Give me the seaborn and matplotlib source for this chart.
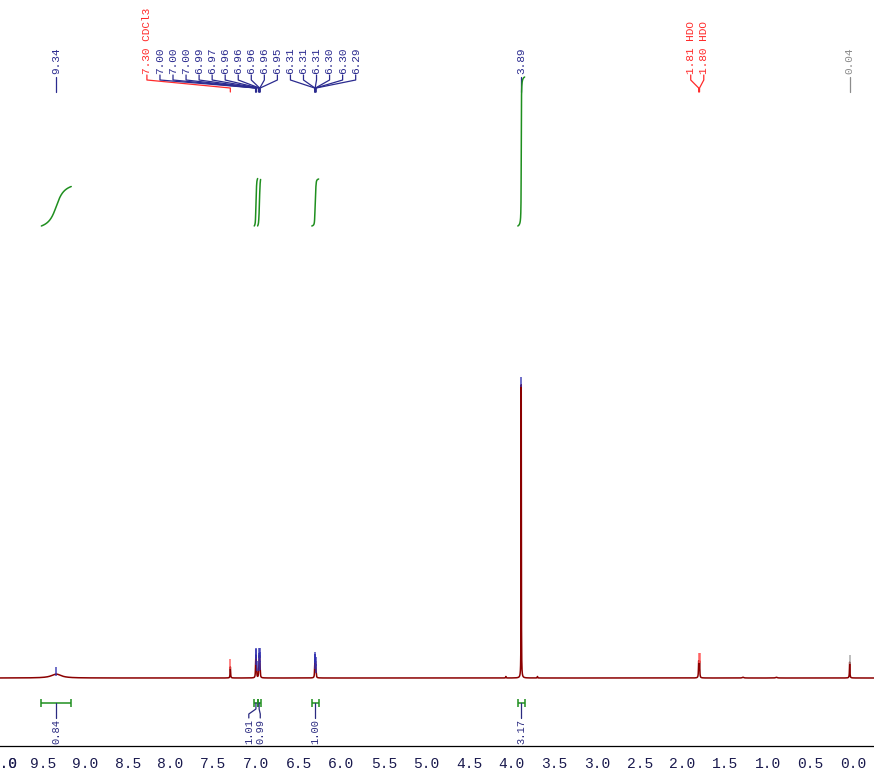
import numpy as np
import pandas as pd
import matplotlib
matplotlib.use("Agg")
import matplotlib.pyplot as plt
import seaborn as sns
from matplotlib.ticker import MultipleLocator, FormatStrFormatter

# ---------------- data ----------------
# individual resonances: position (ppm), height (relative units), half width (ppm)
line_ppm = [9.34, 7.30,
            7.004, 7.001, 6.998, 6.992,
            6.968, 6.963, 6.960, 6.957, 6.954, 6.950,
            6.312, 6.309, 6.306, 6.302, 6.299, 6.294,
            4.07, 3.89, 3.70, 1.81, 1.80, 1.29, 0.90, 0.04]
line_height = [1.3, 3.7,
               2.5, 4.5, 4.5, 2.0,
               1.5, 3.2, 3.8, 3.8, 3.2, 1.5,
               1.5, 3.0, 3.5, 3.0, 2.5, 1.2,
               0.5, 98.3, 0.5, 5.3, 5.3, 0.25, 0.25, 5.3]
line_hwhm = [0.07, 0.003,
             0.0025, 0.0025, 0.0025, 0.0025,
             0.0025, 0.0025, 0.0025, 0.0025, 0.0025, 0.0025,
             0.0025, 0.0025, 0.0025, 0.0025, 0.0025, 0.0025,
             0.003, 0.0016, 0.003, 0.003, 0.003, 0.01, 0.01, 0.003]

# picked peaks (labels at the top)
pick_text = ["9.34",
             "7.30 CDCl3", "7.00", "7.00", "7.00", "6.99", "6.97", "6.96", "6.96", "6.96", "6.96", "6.95",
             "6.31", "6.31", "6.31", "6.30", "6.30", "6.29",
             "3.89",
             "1.81 HDO", "1.80 HDO",
             "0.04"]
pick_ppm = [9.34,
            7.30, 7.004, 7.001, 6.998, 6.992, 6.968, 6.963, 6.960, 6.957, 6.954, 6.950,
            6.312, 6.309, 6.306, 6.302, 6.299, 6.294,
            3.89,
            1.81, 1.80,
            0.04]
pick_kind = ["c", "s", "c", "c", "c", "c", "c", "c", "c", "c", "c", "c",
             "c", "c", "c", "c", "c", "c", "c", "s", "s", "t"]
pick_group = [0, 1, 1, 1, 1, 1, 1, 1, 1, 1, 1, 1, 1, 1, 1, 1, 1, 1, 2, 3, 3, 4]

# integrals
int_value = [0.84, 1.01, 0.99, 1.00, 3.17]
int_from = [9.515, 7.02, 6.98, 6.345, 3.93]
int_to = [9.165, 6.98, 6.945, 6.265, 3.85]
int_text = ["0.84", "1.01", "0.99", "1.00", "3.17"]

tick_values = np.arange(0.0, 10.01, 0.5)

# ---------------- layout helpers ----------------
BASE_PX, PX_PER_UNIT = 678.0, 3.0
ZERO_PX, PX_PER_PPM = 853.0, 85.65


def yv(p):
    return (BASE_PX - p) / PX_PER_UNIT


def xv(p):
    return (ZERO_PX - p) / PX_PER_PPM


sns.set_style("white")
plt.rcParams['font.family'] = ['Liberation Mono', 'DejaVu Sans']

W, H = 874, 770
fig = plt.figure(figsize=(W / 100, H / 100), dpi=100)
axis_px = 746
ax = fig.add_axes([0, (H - axis_px) / H, 1, axis_px / H])

# spectrum
ppm = np.linspace(10.05, -0.3, 42000)
inten = np.zeros_like(ppm)
for c, h, w in zip(line_ppm, line_height, line_hwhm):
    inten += h / (1 + ((ppm - c) / w) ** 2)
df = pd.DataFrame({"ppm": ppm, "intensity": inten})
sns.lineplot(data=df, x="ppm", y="intensity", ax=ax, color="#8b0000", lw=1.1,
             sort=False, estimator=None)

BLUE, RED, GRAY, GREEN, NAVY = "#2b2b8f", "#ff2a2a", "#8c8c8c", "#1f8f1f", "#2a2a80"
kind_color = {"c": BLUE, "s": RED, "t": GRAY}
tip_color = {"c": "#3030b0", "s": "#ff5050", "t": "#a0a0a0"}

# peak tip markers
for p, k in zip(pick_ppm, pick_kind):
    top = np.interp(p, ppm[::-1], inten[::-1])
    ax.vlines(p, top - 0.7, top + 2.5, color=tip_color[k], lw=1.3, alpha=0.75)

# peak labels
group_start_px = {1: 144.0, 3: 690.0}
spacing_px = 13.1
counters = {}
for t, p, k, g in zip(pick_text, pick_ppm, pick_kind, pick_group):
    col = kind_color[k]
    if g in group_start_px:
        i = counters.get(g, 0)
        counters[g] = i + 1
        lx = xv(group_start_px[g] + i * spacing_px)
        ax.plot([lx, lx, p, p], [yv(75), yv(80), yv(88), yv(92)], color=col, lw=0.9)
    else:
        lx = p
        ax.plot([p, p], [yv(77), yv(92)], color=col, lw=0.9)
    ax.text(lx, yv(74), t, rotation=90, ha="center", va="bottom", color=col, fontsize=8)

# integrals
UNIT_PER_H = 47.0 / PX_PER_UNIT
int_base = yv(226)
bar_y = yv(703)
centers = [(a + b) / 2 for a, b in zip(int_from, int_to)]
label_px = [ZERO_PX - c * PX_PER_PPM for c in centers]
# spread overlapping integral labels
min_gap = 11.5
for i in range(1, len(label_px)):
    if label_px[i] - label_px[i - 1] < min_gap:
        mid = (label_px[i] + label_px[i - 1]) / 2
        label_px[i - 1] = mid - min_gap / 2 - 3.0
        label_px[i] = mid + min_gap / 2 - 3.0
for val, a, b, c, lp, txt in zip(int_value, int_from, int_to, centers, label_px, int_text):
    m = (ppm <= a) & (ppm >= b)
    cs = np.cumsum(inten[m])
    cs = cs / cs[-1] * val * UNIT_PER_H + int_base
    ax.plot(ppm[m], cs, color=GREEN, lw=1.1)
    ax.hlines(bar_y, b, a, color=GREEN, lw=1.1)
    ax.vlines([a, b], yv(699), yv(707), color=GREEN, lw=1.1)
    lx = xv(lp)
    ax.plot([c, c, lx, lx], [bar_y, yv(709), yv(714), yv(718)], color=NAVY, lw=0.9)
    ax.text(lx, yv(718.5), txt, rotation=90, ha="center", va="top", color=NAVY, fontsize=7.5)

# axes styling
ax.set_xlim(xv(0), xv(W))
ax.set_ylim(yv(axis_px), yv(0))
ax.set_xlabel("")
ax.set_ylabel("")
ax.set_yticks([])
ax.set_xticks(tick_values)
ax.xaxis.set_major_formatter(FormatStrFormatter("%.1f"))
ax.xaxis.set_minor_locator(MultipleLocator(0.25))
ax.tick_params(axis="x", which="major", length=3.6, width=0.9, pad=4.3,
               labelsize=10.5, labelcolor="#1a1a4e", color="black", direction="out")
ax.tick_params(axis="x", which="minor", length=2.2, width=0.9, color="black", direction="out")
sns.despine(ax=ax, left=True, top=True, right=True)
ax.spines["bottom"].set_color("black")
ax.spines["bottom"].set_linewidth(0.9)
ax.annotate("10.0", xy=(10.0, 0), xycoords=("data", "axes fraction"), xytext=(0, -7.9),
            textcoords="offset points", ha="center", va="top", fontsize=10.5,
            color="#1a1a4e", annotation_clip=False)

fig.savefig("out.png", dpi=100, facecolor="white")
